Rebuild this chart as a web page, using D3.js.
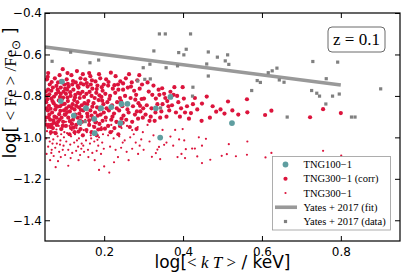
<!doctype html>
<html>
<head>
<meta charset="utf-8">
<script src="https://d3js.org/d3.v7.min.js"></script>
<style>
  body { margin: 0; background: #fff; }
  svg { display: block; }
</style>
</head>
<body>
<svg id="chart" width="411" height="274"></svg>
<script>
// ---- data ----
var xTicks = [0.2, 0.4, 0.6, 0.8];
var yTicks = [-1.4, -1.2, -1.0, -0.8, -0.6, -0.4];

// Yates+2017 fit line (end points)
var yatesFit = [[0.05, -0.564], [0.80, -0.747]];

// Yates+2017 observed groups
var yatesData = [
  [0.068,-0.633],[0.115,-0.589],[0.164,-0.640],[0.186,-0.627],[0.152,-0.924],
  [0.285,-0.728],[0.303,-0.720],[0.299,-0.664],[0.316,-0.647],[0.317,-0.718],
  [0.326,-0.583],[0.340,-0.501],[0.355,-0.501],[0.419,-0.501],[0.357,-0.664],
  [0.343,-0.858],[0.386,-0.655],[0.389,-0.591],[0.402,-0.602],[0.408,-0.575],
  [0.425,-0.758],[0.424,-0.801],[0.464,-0.588],[0.460,-0.646],[0.464,-0.704],
  [0.487,-0.613],[0.513,-0.602],[0.507,-0.631],[0.516,-0.648],[0.574,-0.774],
  [0.588,-0.726],[0.596,-0.735],[0.616,-0.688],[0.626,-0.679],[0.638,-0.666],
  [0.644,-0.723],[0.656,-0.734],[0.664,-0.902],[0.726,-0.774],[0.739,-0.787],
  [0.746,-0.801],[0.729,-0.634],[0.763,-0.717],[0.762,-0.839],[0.779,-0.801],
  [0.796,-0.791],[0.792,-0.637],[0.827,-0.902],[0.836,-0.902],[0.901,-0.766]
];

// TNG100-1
var tng100 = [
  [0.093,-0.731],[0.090,-0.825],[0.123,-0.895],[0.138,-0.928],[0.154,-0.859],
  [0.175,-0.911],[0.176,-0.980],[0.192,-0.859],[0.218,-0.854],[0.244,-0.839],
  [0.259,-0.838],[0.241,-0.931],[0.331,-0.860],[0.368,-0.805],[0.342,-1.001],
  [0.524,-0.931]
];

// TNG300-1 (corr)
var tng300corr = [
  [0.058,-0.690],[0.052,-0.779],[0.095,-0.671],[0.062,-0.745],[0.070,-0.760],[0.083,-0.735],
  [0.090,-0.760],[0.055,-0.800],[0.066,-0.812],[0.078,-0.790],[0.088,-0.805],[0.097,-0.780],
  [0.053,-0.830],[0.060,-0.848],[0.072,-0.835],[0.081,-0.852],[0.094,-0.840],[0.057,-0.870],
  [0.068,-0.880],[0.076,-0.865],[0.086,-0.888],[0.098,-0.870],[0.052,-0.905],[0.063,-0.915],
  [0.074,-0.900],[0.083,-0.925],[0.092,-0.905],[0.058,-0.945],[0.070,-0.955],[0.080,-0.940],
  [0.091,-0.960],[0.065,-0.975],[0.055,-0.720],[0.075,-0.715],[0.087,-0.700],[0.099,-0.745],
  [0.066,-0.775],[0.085,-0.822],[0.061,-0.890],[0.096,-0.925],[0.054,-0.860],[0.079,-0.905],
  [0.069,-0.825],[0.093,-0.815],[0.088,-0.850],[0.073,-0.930],[0.058,-0.770],[0.100,-0.890],
  [0.082,-0.770],[0.064,-0.950],[0.077,-0.980],[0.090,-0.790],
  [0.057,-0.708],[0.067,-0.733],[0.079,-0.752],[0.091,-0.728],[0.101,-0.765],[0.061,-0.792],
  [0.073,-0.803],[0.084,-0.781],[0.096,-0.808],[0.056,-0.816],[0.064,-0.862],[0.077,-0.847],
  [0.089,-0.872],[0.100,-0.838],[0.059,-0.903],[0.071,-0.918],[0.087,-0.915],[0.067,-0.938],
  [0.095,-0.945],[0.053,-0.938],
  [0.117,-0.700],[0.105,-0.720],[0.128,-0.735],[0.140,-0.715],[0.148,-0.745],[0.110,-0.755],
  [0.122,-0.770],[0.135,-0.760],[0.145,-0.780],[0.103,-0.790],[0.115,-0.800],[0.127,-0.795],
  [0.138,-0.810],[0.149,-0.805],[0.108,-0.825],[0.120,-0.840],[0.132,-0.830],[0.143,-0.845],
  [0.104,-0.860],[0.113,-0.875],[0.125,-0.865],[0.137,-0.885],[0.147,-0.870],[0.109,-0.905],
  [0.121,-0.915],[0.133,-0.905],[0.144,-0.925],[0.103,-0.945],[0.116,-0.955],[0.129,-0.940],
  [0.140,-0.960],[0.112,-0.985],[0.125,-0.975],[0.146,-0.990],[0.131,-0.680],[0.146,-0.695],
  [0.107,-0.690],[0.119,-0.745],[0.141,-0.740],[0.124,-0.820],[0.150,-0.835],[0.111,-0.850],
  [0.136,-0.855],[0.102,-0.890],[0.142,-0.900],[0.118,-0.935],[0.134,-0.785],[0.106,-0.770],
  [0.108,-0.742],[0.121,-0.728],[0.133,-0.752],[0.114,-0.782],[0.126,-0.808],[0.139,-0.790],
  [0.107,-0.808],[0.118,-0.858],[0.129,-0.848],[0.141,-0.868],[0.106,-0.878],[0.127,-0.890],
  [0.139,-0.920],[0.113,-0.922],[0.123,-0.953],[0.135,-0.972],
  [0.152,-0.720],[0.165,-0.705],[0.178,-0.730],[0.190,-0.715],[0.158,-0.755],[0.170,-0.765],
  [0.183,-0.750],[0.196,-0.775],[0.155,-0.790],[0.168,-0.800],[0.180,-0.785],[0.193,-0.805],
  [0.160,-0.825],[0.173,-0.835],[0.186,-0.820],[0.198,-0.840],[0.153,-0.855],[0.165,-0.870],
  [0.177,-0.880],[0.189,-0.865],[0.158,-0.900],[0.171,-0.910],[0.184,-0.895],[0.196,-0.920],
  [0.162,-0.940],[0.175,-0.950],[0.188,-0.935],[0.155,-0.965],[0.168,-0.975],[0.192,-0.960],
  [0.181,-0.990],[0.162,-0.690],[0.187,-0.695],[0.199,-0.745],[0.176,-0.810],[0.157,-0.885],
  [0.191,-0.890],[0.166,-0.745],[0.182,-0.855],[0.199,-0.880],
  [0.156,-0.738],[0.169,-0.725],[0.181,-0.767],[0.194,-0.758],[0.163,-0.781],[0.188,-0.797],
  [0.157,-0.840],[0.170,-0.852],[0.195,-0.823],[0.162,-0.918],[0.178,-0.928],[0.168,-0.895],
  [0.185,-0.962],
  [0.217,-0.688],[0.205,-0.720],[0.229,-0.705],[0.241,-0.730],[0.210,-0.750],[0.222,-0.765],
  [0.235,-0.745],[0.248,-0.770],[0.203,-0.790],[0.215,-0.800],[0.228,-0.785],[0.240,-0.810],
  [0.208,-0.830],[0.220,-0.845],[0.233,-0.830],[0.246,-0.850],[0.212,-0.870],[0.225,-0.885],
  [0.238,-0.870],[0.249,-0.895],[0.204,-0.905],[0.218,-0.915],[0.231,-0.925],[0.244,-0.910],
  [0.210,-0.945],[0.226,-0.955],[0.240,-0.945],[0.216,-0.975],[0.236,-0.985],[0.248,-0.740],
  [0.206,-0.860],[0.243,-0.825],
  [0.211,-0.733],[0.226,-0.748],[0.236,-0.770],[0.213,-0.815],[0.232,-0.860],[0.221,-0.900],
  [0.247,-0.930],[0.202,-0.958],
  [0.255,-0.715],[0.270,-0.735],[0.284,-0.725],[0.296,-0.745],[0.260,-0.760],[0.276,-0.775],
  [0.290,-0.765],[0.253,-0.800],[0.267,-0.810],[0.281,-0.795],[0.295,-0.815],[0.258,-0.840],
  [0.273,-0.850],[0.287,-0.835],[0.299,-0.860],[0.262,-0.880],[0.278,-0.890],[0.292,-0.875],
  [0.256,-0.915],[0.271,-0.925],[0.286,-0.910],[0.265,-0.950],[0.282,-0.960],[0.298,-0.905],
  [0.289,-0.700],[0.263,-0.695],
  [0.268,-0.755],[0.279,-0.818],[0.291,-0.848],[0.259,-0.865],[0.283,-0.875],
  [0.301,-0.813],[0.313,-0.779],[0.331,-0.813],[0.347,-0.763],[0.308,-0.845],[0.320,-0.860],
  [0.335,-0.840],[0.345,-0.875],[0.305,-0.890],[0.318,-0.900],[0.330,-0.880],[0.342,-0.905],
  [0.310,-0.735],[0.325,-0.750],[0.340,-0.795],[0.315,-0.920],[0.348,-0.840],
  [0.322,-0.795],[0.338,-0.770],[0.355,-0.810],[0.368,-0.780],[0.385,-0.800],[0.363,-0.850],
  [0.405,-0.880],[0.430,-0.810],[0.328,-0.920],
  [0.378,-0.758],[0.399,-0.758],[0.352,-0.790],[0.376,-0.795],[0.402,-0.813],[0.360,-0.825],
  [0.372,-0.845],[0.388,-0.830],[0.395,-0.860],[0.365,-0.870],[0.382,-0.880],[0.410,-0.850],
  [0.420,-0.883],[0.425,-0.840],[0.436,-0.865],[0.447,-0.920],[0.448,-0.837],[0.358,-0.900],
  [0.392,-0.900],[0.415,-0.910],
  [0.460,-0.803],[0.468,-0.905],[0.484,-0.876],[0.475,-0.850],[0.495,-0.865],[0.514,-0.827],
  [0.505,-0.885],[0.525,-0.870],[0.540,-0.890],[0.562,-0.816],[0.563,-0.879],[0.608,-0.892],
  [0.624,-0.871],[0.722,-0.903],[0.755,-0.864],[0.800,-0.883]
];

// TNG300-1
var tng300 = [
  [0.052,-0.920],[0.060,-0.935],[0.068,-0.950],[0.076,-0.930],[0.085,-0.945],[0.094,-0.960],
  [0.055,-0.970],[0.064,-0.985],[0.073,-0.975],[0.082,-0.995],[0.091,-0.985],[0.099,-0.975],
  [0.053,-1.005],[0.062,-1.020],[0.071,-1.010],[0.080,-1.030],[0.089,-1.015],[0.097,-1.040],
  [0.058,-1.045],[0.067,-1.060],[0.076,-1.050],[0.086,-1.070],[0.095,-1.060],[0.054,-1.080],
  [0.072,-1.090],[0.090,-1.095],[0.077,-1.144],[0.109,-1.137],[0.063,-1.110],[0.083,-1.115],
  [0.098,-1.000],[0.069,-1.030],
  [0.057,-0.955],[0.079,-0.962],[0.088,-1.035],[0.066,-1.075],[0.101,-1.085],
  [0.103,-0.925],[0.112,-0.945],[0.121,-0.935],[0.130,-0.955],[0.140,-0.940],[0.148,-0.965],
  [0.106,-0.980],[0.116,-0.995],[0.126,-0.985],[0.136,-1.005],[0.145,-0.990],[0.104,-1.020],
  [0.114,-1.035],[0.124,-1.025],[0.134,-1.045],[0.143,-1.030],[0.109,-1.060],[0.119,-1.075],
  [0.129,-1.065],[0.139,-1.085],[0.149,-1.070],[0.115,-1.100],[0.135,-1.110],[0.147,-1.040],
  [0.125,-0.905],[0.118,-0.965],[0.131,-1.015],[0.142,-1.055],
  [0.152,-0.915],[0.162,-0.930],[0.172,-0.945],[0.182,-0.925],[0.193,-0.950],[0.156,-0.975],
  [0.166,-0.990],[0.176,-0.980],[0.187,-1.000],[0.197,-0.985],[0.154,-1.015],[0.164,-1.030],
  [0.175,-1.020],[0.185,-1.040],[0.195,-1.025],[0.159,-1.060],[0.170,-1.075],[0.181,-1.065],
  [0.192,-1.080],[0.187,-1.157],[0.200,-1.140],[0.176,-1.110],[0.160,-1.095],
  [0.167,-1.005],[0.183,-1.012],[0.199,-1.055],
  [0.205,-0.920],[0.218,-0.940],[0.231,-0.930],[0.244,-0.955],[0.258,-0.945],[0.271,-0.965],
  [0.285,-0.950],[0.298,-0.975],[0.210,-0.990],[0.224,-1.005],[0.238,-0.995],[0.252,-1.015],
  [0.266,-1.000],[0.280,-1.025],[0.294,-1.010],[0.215,-1.045],[0.229,-1.060],[0.243,-1.050],
  [0.257,-1.070],[0.271,-1.055],[0.286,-1.080],[0.213,-1.170],[0.235,-1.095],[0.262,-1.110],
  [0.290,-1.040],[0.221,-0.970],[0.247,-1.025],[0.275,-0.985],[0.300,-1.060],[0.225,-1.120],
  [0.348,-0.964],[0.380,-0.964],[0.399,-0.960],[0.403,-1.015],[0.368,-0.996],[0.331,-1.076],
  [0.342,-1.105],[0.358,-1.025],[0.352,-1.036],[0.335,-1.059],[0.339,-1.046],[0.321,-1.094],
  [0.407,-1.057],[0.423,-1.054],[0.430,-1.054],[0.396,-1.080],[0.405,-1.100],[0.386,-1.095],
  [0.436,-1.092],[0.448,-1.040],[0.458,-1.007],[0.310,-0.940],[0.325,-0.990],[0.315,-1.020],
  [0.375,-1.040],[0.390,-1.010],[0.440,-1.000],
  [0.448,-1.124],[0.469,-1.108],[0.498,-1.089],[0.511,-1.081],[0.534,-1.091],[0.516,-1.033],
  [0.563,-1.020],[0.562,-1.084],[0.609,-1.097],[0.624,-1.075],[0.755,-1.065],[0.801,-1.088]
];

var legendLabels = ["TNG100\u22121", "TNG300\u22121 (corr)", "TNG300\u22121",
                    "Yates + 2017 (fit)", "Yates + 2017 (data)"];

// ---- layout ----
var plotL = 45, plotR = 400, plotT = 13, plotB = 241;

var svg = d3.select("#chart");

var xScale = d3.scaleLinear().domain([0.05, 0.95]).range([plotL, plotR]);
var yScale = d3.scaleLinear().domain([-1.5, -0.4]).range([plotB, plotT]);

var red = "#dc143c", teal = "#5f9ea0", grey = "#808080", fitGrey = "#999999";

svg.append("clipPath").attr("id", "plotClip")
  .append("rect").attr("x", plotL).attr("y", plotT)
  .attr("width", plotR - plotL).attr("height", plotB - plotT);

var plot = svg.append("g").attr("clip-path", "url(#plotClip)");

// small red dots
plot.selectAll("circle.tng300")
  .data(tng300)
  .enter()
  .append("circle")
  .attr("class", "tng300")
  .attr("cx", d => xScale(d[0]))
  .attr("cy", d => yScale(d[1]))
  .attr("r", 1.1)
  .style("fill", red);

// big red dots
plot.selectAll("circle.corr")
  .data(tng300corr)
  .enter()
  .append("circle")
  .attr("class", "corr")
  .attr("cx", d => xScale(d[0]))
  .attr("cy", d => yScale(d[1]))
  .attr("r", 2.1)
  .style("fill", red);

// teal
plot.selectAll("circle.tng100")
  .data(tng100)
  .enter()
  .append("circle")
  .attr("class", "tng100")
  .attr("cx", d => xScale(d[0]))
  .attr("cy", d => yScale(d[1]))
  .attr("r", 2.9)
  .style("fill", teal);

// fit line
var fitLine = d3.line()
  .x(d => xScale(d[0]))
  .y(d => yScale(d[1]));

plot.append("path")
  .attr("d", fitLine(yatesFit))
  .attr("fill", "none")
  .attr("stroke", fitGrey)
  .attr("stroke-width", 3.6);

// grey squares
plot.selectAll("rect.yates")
  .data(yatesData)
  .enter()
  .append("rect")
  .attr("class", "yates")
  .attr("x", d => xScale(d[0]) - 1.6)
  .attr("y", d => yScale(d[1]) - 1.6)
  .attr("width", 3.2)
  .attr("height", 3.2)
  .style("fill", grey);

// ---- axes (ticks inward on all four sides) ----
var fmt = d3.format(".1f");

var xAxis = d3.axisBottom(xScale).tickValues(xTicks).tickFormat(fmt)
  .tickSizeInner(-5).tickSizeOuter(0).tickPadding(6);
var yAxis = d3.axisLeft(yScale).tickValues(yTicks).tickFormat(fmt)
  .tickSizeInner(-5).tickSizeOuter(0).tickPadding(3);
var xTop = d3.axisTop(xScale).tickValues(xTicks).tickFormat("")
  .tickSizeInner(-5).tickSizeOuter(0);
var yRight = d3.axisRight(yScale).tickValues(yTicks).tickFormat("")
  .tickSizeInner(-5).tickSizeOuter(0);

svg.append("g").attr("transform", "translate(0," + plotB + ")").call(xAxis);
svg.append("g").attr("transform", "translate(" + plotL + ",0)").call(yAxis);
svg.append("g").attr("transform", "translate(0," + plotT + ")").call(xTop);
svg.append("g").attr("transform", "translate(" + plotR + ",0)").call(yRight);

svg.selectAll(".tick line").attr("stroke", "#000").attr("stroke-width", 1);
svg.selectAll(".domain").remove();
svg.selectAll(".tick text")
  .style("font-family", "DejaVu Sans")
  .style("font-size", "12px")
  .attr("fill", "#000");

svg.append("rect")
  .attr("x", plotL).attr("y", plotT)
  .attr("width", plotR - plotL).attr("height", plotB - plotT)
  .attr("fill", "none").attr("stroke", "#000").attr("stroke-width", 1.2);

// ---- axis labels ----
var xl = svg.append("text")
  .attr("x", (plotL + plotR) / 2)
  .attr("y", 268)
  .attr("text-anchor", "middle")
  .style("font-family", "DejaVu Sans")
  .style("font-size", "17px");
xl.append("tspan").text("log[");
xl.append("tspan").style("font-family", "Liberation Serif").text("< ");
xl.append("tspan").style("font-family", "Liberation Serif").style("font-style", "italic").text("k T");
xl.append("tspan").style("font-family", "Liberation Serif").text(" >");
xl.append("tspan").text(" / keV]");

var yl = svg.append("text")
  .attr("transform", "translate(16,93) rotate(-90)")
  .attr("text-anchor", "middle")
  .style("font-family", "DejaVu Sans")
  .style("font-size", "17px");
yl.append("tspan").text("log[ ");
yl.append("tspan").style("font-family", "Liberation Serif").text("< Fe > /Fe");
yl.append("tspan").style("font-family", "Liberation Serif").style("font-size", "12px")
  .attr("dy", 4).text("\u2299");
yl.append("tspan").attr("dy", -4).text(" ]");

// ---- redshift box ----
svg.append("rect")
  .attr("x", 328).attr("y", 27).attr("width", 57).attr("height", 25)
  .attr("rx", 4).attr("fill", "#fff").attr("stroke", "#444").attr("stroke-width", 0.8);
svg.append("text")
  .attr("x", 356.5).attr("y", 45)
  .attr("text-anchor", "middle")
  .style("font-family", "Liberation Serif")
  .style("font-size", "17px")
  .text("z = 0.1");

// ---- legend ----
var lg = svg.append("g").attr("transform", "translate(272.5,156.5)");
lg.append("rect")
  .attr("width", 118).attr("height", 73.5)
  .attr("fill", "#fff").attr("fill-opacity", 0.85)
  .attr("stroke", "#999").attr("stroke-width", 0.8);

var rowY = d3.scaleLinear().domain([0, 4]).range([8, 65]);
var mx = 13;

lg.append("circle").attr("cx", mx).attr("cy", rowY(0)).attr("r", 2.9).style("fill", teal);
lg.append("circle").attr("cx", mx).attr("cy", rowY(1)).attr("r", 2.1).style("fill", red);
lg.append("circle").attr("cx", mx).attr("cy", rowY(2)).attr("r", 1.1).style("fill", red);
lg.append("line").attr("x1", 2.5).attr("x2", 24.5).attr("y1", rowY(3)).attr("y2", rowY(3))
  .attr("stroke", fitGrey).attr("stroke-width", 3.6);
lg.append("rect").attr("x", mx - 1.6).attr("y", rowY(4) - 1.6)
  .attr("width", 3.2).attr("height", 3.2).style("fill", grey);

lg.selectAll("text.lab")
  .data(legendLabels)
  .enter()
  .append("text")
  .attr("class", "lab")
  .attr("x", 31)
  .attr("y", (d, i) => rowY(i) + 3.6)
  .style("font-family", "Liberation Serif")
  .style("font-size", "10.5px")
  .text(d => d);
</script>
</body>
</html>
